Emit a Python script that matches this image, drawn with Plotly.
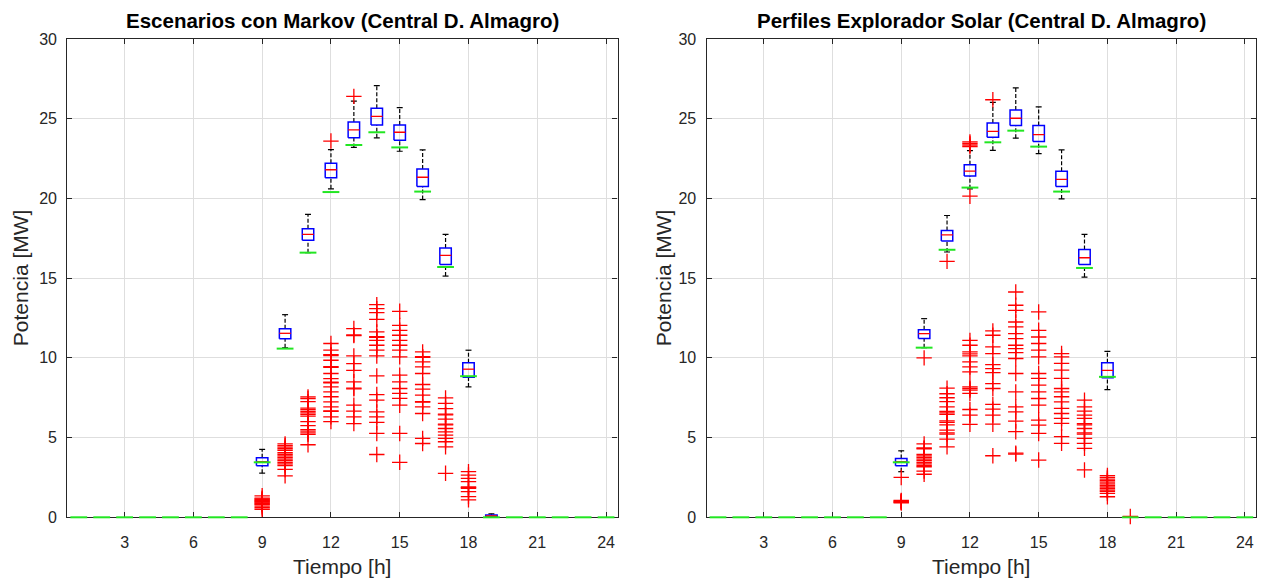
import plotly.graph_objects as go

# ---------------- data ----------------
hours_all = list(range(1, 25))
box_hours = [9, 10, 11, 12, 13, 14, 15, 16, 17, 18, 19]
x_ticks = [3, 6, 9, 12, 15, 18, 21, 24]
y_ticks = [0, 5, 10, 15, 20, 25, 30]

# Left: Escenarios con Markov
mk_upper = [4.26, 12.71, 19.0, 23.06, 26.1, 27.07, 25.7, 23.04, 17.74, 10.48, 0.22]
mk_q3 = [3.74, 11.83, 18.1, 22.2, 24.8, 25.65, 24.6, 21.85, 16.89, 9.69, 0.14]
mk_median = [3.49, 11.54, 17.74, 21.8, 24.3, 25.15, 24.15, 21.33, 16.43, 9.29, 0.08]
mk_q1 = [3.24, 11.2, 17.37, 21.3, 23.8, 24.6, 23.65, 20.75, 15.86, 8.79, 0.03]
mk_lower = [2.77, 10.63, 16.6, 20.6, 23.2, 23.8, 22.96, 19.93, 15.13, 8.18, 0.0]
mk_green = [0, 0, 0, 0, 0, 0, 0, 0, 3.45, 10.58, 16.6, 20.4, 23.35, 24.15, 23.2,
            20.43, 15.7, 8.85, 0, 0, 0, 0, 0, 0]
mk_outliers = [
    [1.35, 1.2, 1.15, 1.1, 1.05, 1.0, 0.95, 0.9, 0.85, 0.8, 0.7, 0.6, 0.5],
    [4.6, 4.5, 4.4, 4.3, 4.2, 4.05, 3.95, 3.85, 3.75, 3.65, 3.55, 3.45, 3.35, 3.25, 3.0, 2.6],
    [7.55, 7.45, 7.25, 6.85, 6.75, 6.65, 6.55, 6.45, 6.35, 6.0, 5.75, 5.5, 5.4, 5.3, 5.2, 4.55],
    [23.6, 10.9, 10.48, 10.2, 10.15, 9.85, 9.45, 9.4, 9.02, 8.7, 8.47, 8.43, 8.18, 7.87, 7.56,
     7.24, 6.93, 6.68, 6.64, 6.3, 6.0],
    [26.4, 11.84, 11.44, 11.4, 10.12, 9.64, 9.22, 8.5, 8.1, 8.06, 7.03, 6.66, 6.3, 5.88],
    [13.34, 13.09, 12.84, 12.42, 11.63, 11.33, 11.29, 11.1, 10.79, 10.48, 10.12, 8.87, 7.7,
     7.35, 6.61, 6.3, 5.95, 5.26, 3.94],
    [12.92, 12.04, 11.73, 11.42, 11.1, 10.79, 10.48, 10.06, 8.92, 8.5, 8.08, 7.77, 7.46, 7.03,
     5.26, 3.45],
    [10.37, 10.08, 10.04, 9.75, 9.43, 9.02, 8.33, 8.04, 7.66, 7.26, 7.22, 6.93, 6.51, 4.95, 4.63],
    [7.49, 7.14, 6.82, 6.47, 6.43, 6.16, 5.84, 5.8, 5.57, 5.36, 5.16, 4.95, 4.74, 4.42, 2.76],
    [2.86, 2.65, 2.44, 2.24, 1.9, 1.86, 1.82, 1.61, 1.3, 1.09],
    [],
]

# Right: Perfiles Explorador Solar
es_upper = [4.17, 12.46, 18.93, 23.0, 26.03, 26.93, 25.74, 23.04, 17.74, 10.41, 0]
es_q3 = [3.69, 11.77, 17.99, 22.12, 24.73, 25.55, 24.57, 21.71, 16.8, 9.69, 0]
es_median = [3.49, 11.52, 17.72, 21.71, 24.21, 25.03, 24.0, 21.19, 16.28, 9.22, 0]
es_q1 = [3.24, 11.21, 17.33, 21.4, 23.84, 24.57, 23.57, 20.75, 15.86, 8.75, 0]
es_lower = [2.86, 10.64, 16.64, 20.6, 23.02, 23.78, 22.81, 19.97, 15.07, 8.01, 0]
es_green = [0, 0, 0, 0, 0, 0, 0, 0, 3.45, 10.64, 16.78, 20.68, 23.52, 24.25, 23.25,
            20.43, 15.64, 8.81, 0, 0, 0, 0, 0, 0]
es_outliers = [
    [2.5, 1.06, 1.02, 0.98, 0.94, 0.9],
    [10.0, 4.6, 4.35, 4.3, 3.95, 3.85, 3.75, 3.65, 3.55, 3.45, 3.35, 3.25, 3.17, 2.9, 2.7],
    [16.05, 8.1, 7.75, 7.5, 7.25, 6.93, 6.65, 6.55, 6.45, 6.05, 5.95, 5.8, 5.47, 5.3, 5.22,
     4.9, 4.42],
    [23.55, 23.45, 23.35, 23.25, 20.14, 11.1, 10.79, 10.37, 10.25, 10.12, 9.75, 9.43, 9.12,
     8.18, 8.08, 7.98, 7.77, 6.76, 6.41, 5.83],
    [26.19, 11.69, 11.42, 10.69, 10.27, 9.58, 9.33, 9.08, 8.39, 8.08, 7.08, 6.78, 6.41, 5.84, 3.86],
    [14.13, 13.3, 12.98, 12.25, 11.94, 11.52, 11.21, 10.79, 10.58, 10.33, 9.96, 9.02, 7.87,
     6.93, 6.61, 6.03, 5.37, 4.02, 3.96],
    [12.88, 11.73, 11.31, 10.9, 10.48, 10.06, 9.02, 8.71, 8.29, 7.87, 7.45, 7.03, 6.1, 5.78,
     5.26, 3.59],
    [10.27, 10.06, 9.65, 9.23, 8.71, 8.08, 7.87, 7.56, 7.24, 6.83, 6.51, 6.2, 5.89, 5.06, 4.64],
    [7.35, 6.93, 6.66, 6.41, 6.2, 5.87, 5.8, 5.57, 5.3, 5.22, 4.95, 4.64, 4.32, 2.97],
    [2.62, 2.5, 2.4, 2.3, 2.2, 2.1, 2.0, 1.9, 1.8, 1.7, 1.62, 1.5, 1.29],
    [0.05],
]

titles = ["Escenarios con Markov (Central D. Almagro)",
          "Perfiles Explorador Solar (Central D. Almagro)"]
x_label = "Tiempo [h]"
y_label = "Potencia [MW]"

# ---------------- style ----------------
FONT = "Liberation Sans, Arial, Helvetica, sans-serif"
TXT = "#262626"
BOX_HW = 0.25
CAP_HW = 0.13

fig = go.Figure()


def segs(xs, y0s, y1s=None, hw=0.0):
    X, Y = [], []
    for i, x in enumerate(xs):
        if y1s is None:
            X += [x - hw, x + hw, None]
            Y += [y0s[i], y0s[i], None]
        else:
            X += [x, x, None]
            Y += [y0s[i], y1s[i], None]
    return X, Y


def add_panel(xa, ya, upper, q3, med, q1, lower, green, outliers):
    # whiskers
    X1, Y1 = segs(box_hours, q3, upper)
    X2, Y2 = segs(box_hours, lower, q1)
    fig.add_trace(go.Scatter(x=X1 + X2, y=Y1 + Y2, mode="lines", xaxis=xa, yaxis=ya,
                             line=dict(color="black", width=1.2, dash="4px,2px"),
                             hoverinfo="skip", showlegend=False))
    # caps
    X1, Y1 = segs(box_hours, upper, hw=CAP_HW)
    X2, Y2 = segs(box_hours, lower, hw=CAP_HW)
    fig.add_trace(go.Scatter(x=X1 + X2, y=Y1 + Y2, mode="lines", xaxis=xa, yaxis=ya,
                             line=dict(color="black", width=1.2),
                             hoverinfo="skip", showlegend=False))
    # boxes
    BX, BY = [], []
    for i, h in enumerate(box_hours):
        BX += [h - BOX_HW, h + BOX_HW, h + BOX_HW, h - BOX_HW, h - BOX_HW, None]
        BY += [q1[i], q1[i], q3[i], q3[i], q1[i], None]
    fig.add_trace(go.Scatter(x=BX, y=BY, mode="lines", xaxis=xa, yaxis=ya,
                             line=dict(color="#0000ff", width=1.5),
                             hoverinfo="skip", showlegend=False))
    # medians
    MX, MY = segs(box_hours, med, hw=BOX_HW)
    fig.add_trace(go.Scatter(x=MX, y=MY, mode="lines", xaxis=xa, yaxis=ya,
                             line=dict(color="#ff0000", width=1.3),
                             hoverinfo="skip", showlegend=False))
    # outliers
    OX, OY = [], []
    for i, h in enumerate(box_hours):
        OX += [h] * len(outliers[i])
        OY += outliers[i]
    fig.add_trace(go.Scatter(x=OX, y=OY, mode="markers", xaxis=xa, yaxis=ya,
                             cliponaxis=False,
                             marker=dict(symbol="cross-thin", size=11,
                                         line=dict(color="#ff0000", width=1.3)),
                             hoverinfo="skip", showlegend=False))
    # green reference (short horizontal markers, not clipped at the axis)
    fig.add_trace(go.Scatter(x=hours_all, y=green, mode="markers", xaxis=xa, yaxis=ya,
                             cliponaxis=False,
                             marker=dict(symbol="line-ew", size=12,
                                         line=dict(color="#22e622", width=2)),
                             hoverinfo="skip", showlegend=False))


add_panel("x", "y", mk_upper, mk_q3, mk_median, mk_q1, mk_lower, mk_green, mk_outliers)
add_panel("x2", "y2", es_upper, es_q3, es_median, es_q1, es_lower, es_green, es_outliers)

W, H = 1266, 581
dom_left = [67.3 / W, 617.5 / W]
dom_right = [706.5 / W, 1256.3 / W]
dom_y = [1 - 517.3 / H, 1 - 39.0 / H]

axis_common = dict(
    showgrid=True, gridcolor="#dedede", gridwidth=1,
    showline=True, linecolor=TXT, linewidth=1.2, mirror="ticks",
    ticks="inside", ticklen=5, tickcolor=TXT, tickwidth=1,
    tickfont=dict(family=FONT, size=16, color=TXT),
    zeroline=False, fixedrange=True, automargin=False, layer="below traces",
)

fig.update_layout(
    template="none",
    width=W, height=H,
    margin=dict(l=0, r=0, t=0, b=0, pad=0, autoexpand=False),
    paper_bgcolor="white", plot_bgcolor="white",
    showlegend=False,
    xaxis=dict(domain=dom_left, range=[0.5, 24.5], tickvals=x_ticks, anchor="y",
               ticklabelstandoff=10, **axis_common),
    yaxis=dict(domain=dom_y, range=[0, 30], tickvals=y_ticks, anchor="x",
               ticklabelstandoff=6, **axis_common),
    xaxis2=dict(domain=dom_right, range=[0.5, 24.5], tickvals=x_ticks, anchor="y2",
                ticklabelstandoff=10, **axis_common),
    yaxis2=dict(domain=dom_y, range=[0, 30], tickvals=y_ticks, anchor="x2",
                ticklabelstandoff=6, **axis_common),
)

annots = []
for dom, ttl in zip([dom_left, dom_right], titles):
    cx = (dom[0] + dom[1]) / 2
    annots.append(dict(text="<b>%s</b>" % ttl, x=cx, y=1 - 20 / H, xref="paper", yref="paper",
                       xanchor="center", yanchor="middle", showarrow=False,
                       font=dict(family=FONT, size=20.5, color="#000000")))
    annots.append(dict(text=x_label, x=cx, y=1 - 566 / H, xref="paper", yref="paper",
                       xanchor="center", yanchor="middle", showarrow=False,
                       font=dict(family=FONT, size=21, color=TXT)))
annots.append(dict(text=y_label, x=20 / W, y=(dom_y[0] + dom_y[1]) / 2, xref="paper",
                   yref="paper", xanchor="center", yanchor="middle", showarrow=False,
                   textangle=-90, font=dict(family=FONT, size=21, color=TXT)))
annots.append(dict(text=y_label, x=663 / W, y=(dom_y[0] + dom_y[1]) / 2, xref="paper",
                   yref="paper", xanchor="center", yanchor="middle", showarrow=False,
                   textangle=-90, font=dict(family=FONT, size=21, color=TXT)))
fig.update_layout(annotations=annots)

fig.write_html("out.html")
